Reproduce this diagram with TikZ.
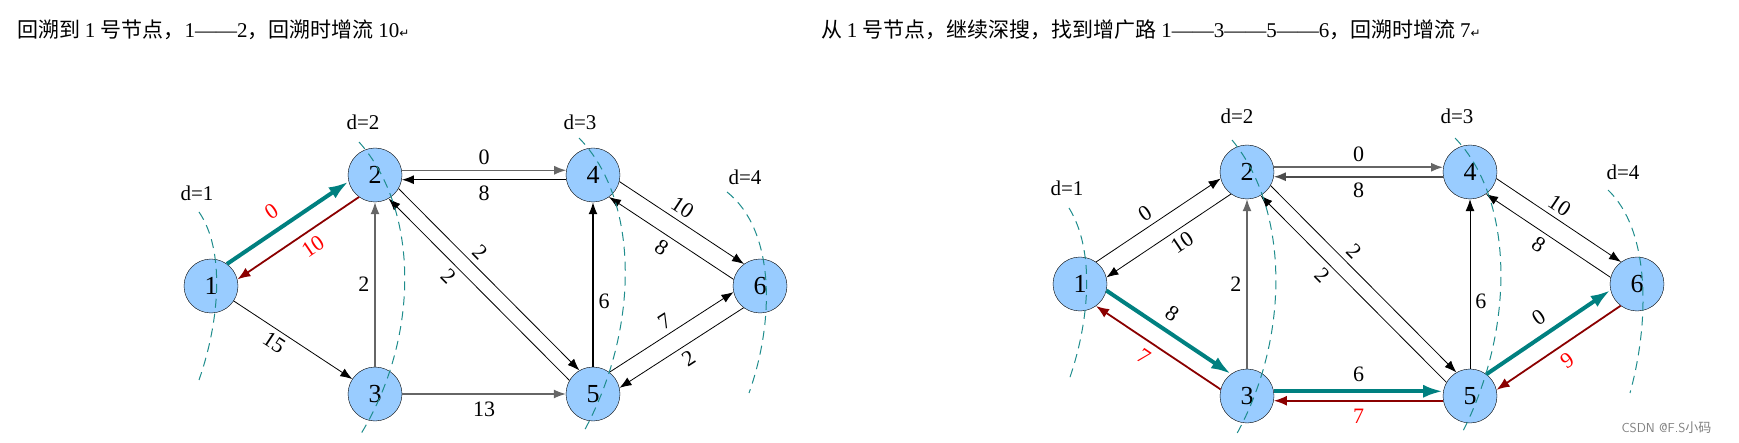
\documentclass[tikz,border=0pt]{standalone}
\usepackage{fontspec}
\setmainfont{Liberation Serif}
\newfontfamily\cjk{Noto Sans CJK SC}
\newfontfamily\dejavu{DejaVu Sans}
\usetikzlibrary{arrows.meta,calc}
\definecolor{nodeblue}{RGB}{153,204,255}
\definecolor{tealc}{RGB}{0,128,128}
\definecolor{dred}{RGB}{139,0,0}
\definecolor{dashc}{RGB}{30,140,140}
\tikzset{
 vtx/.style={circle,draw=black,fill=nodeblue,minimum size=54pt,inner sep=0pt,font=\fontsize{26}{26}\selectfont},
 e/.style={-{Latex[length=12pt,width=9pt]},line width=0.8pt},
 eg/.style={e,draw=gray!80!black,line width=1.4pt},
 eb/.style={e,line width=1.4pt},
 et/.style={-{Latex[length=20pt,width=13pt]},draw=tealc,line width=4pt},
 er/.style={-{Latex[length=13pt,width=10pt]},draw=dred,line width=1.8pt},
 lb/.style={font=\fontsize{22}{22}\selectfont,inner sep=5pt},
 rl/.style={lb,text=red},
 dl/.style={font=\fontsize{21}{21}\selectfont},
 dcurve/.style={draw=dashc,dash pattern=on 9pt off 6pt,line width=1pt},
 hdr/.style={anchor=west,font=\fontsize{21}{24}\selectfont,inner sep=0pt}
}
\begin{document}
\begin{tikzpicture}[x=1pt,y=-1pt]
\useasboundingbox (0,0) rectangle (1739,443);
\clip (0,0) rectangle (1739,443);
\node[hdr] (h1) at (17,30) {\cjk 回溯到 \rmfamily 1 \cjk 号节点，\rmfamily 1——2\cjk ，回溯时增流 \rmfamily 10{\dejavu\fontsize{12}{12}\selectfont ↵}};
\node[hdr] (h2) at (821,30) {\cjk 从 \rmfamily 1 \cjk 号节点，继续深搜，找到增广路 \rmfamily 1——3——5——6\cjk ，回溯时增流 \rmfamily 7{\dejavu\fontsize{12}{12}\selectfont ↵}};
% ---------- left graph ----------
\node[vtx] (a1) at (211,286) {1};
\node[vtx] (a2) at (375,175) {2};
\node[vtx] (a3) at (375,394) {3};
\node[vtx] (a4) at (593,175) {4};
\node[vtx] (a5) at (593,394) {5};
\node[vtx] (a6) at (760,286) {6};
\draw[et] (a1.54) -- node[rl,sloped,above,pos=0.45,yshift=4pt]{0} (a2.194);
\draw[er] (a2.234) -- node[rl,sloped,below,pos=0.45,yshift=-2pt]{10} (a1.14);
\draw[e] (a1) -- node[lb,sloped,below,pos=0.4]{15} (a3);
\draw[eg,line width=1.2pt] (a3) -- node[lb,left,pos=0.5]{2} (a2);
\draw[eg] (a2.10) -- node[lb,above]{0} (a4.170);
\draw[eb] (a4.-170) -- node[lb,below]{8} (a2.-10);
\draw[e] (a2.-30) -- node[lb,sloped,above,pos=0.4]{2} (a5.120);
\draw[e] (a5.150) -- node[lb,sloped,below,pos=0.62]{2} (a2.-60);
\draw[eb] (a5) -- node[lb,right,pos=0.4]{6} (a4);
\draw[e] (a4.-14) -- node[lb,sloped,above,pos=0.45]{10} (a6.126);
\draw[e] (a6.166) -- node[lb,sloped,below,pos=0.52]{8} (a4.-54);
\draw[e] (a5.53) -- node[lb,sloped,above,pos=0.5]{7} (a6.193);
\draw[e] (a6.233) -- node[lb,sloped,below,pos=0.5]{2} (a5.13);
\draw[eg,line width=1.2pt] (a3) -- node[lb,below,yshift=-2pt]{13} (a5);
\draw[dcurve] (199,212) .. controls (225,250) and (220,320) .. (199,380);
\draw[dcurve] (359,142) .. controls (420,210) and (420,340) .. (359,437);
\draw[dcurve] (579,138) .. controls (640,200) and (640,330) .. (583,433);
\draw[dcurve] (727,192) .. controls (775,230) and (775,320) .. (749,393);
\node[dl] (ad1) at (197,193) {d=1};
\node[dl] (ad2) at (363,122) {d=2};
\node[dl] (ad3) at (580,122) {d=3};
\node[dl] (ad4) at (745,177) {d=4};
% ---------- right graph ----------
\node[vtx] (b1) at (1080,284) {1};
\node[vtx] (b2) at (1247,172) {2};
\node[vtx] (b3) at (1247,396) {3};
\node[vtx] (b4) at (1470,172) {4};
\node[vtx] (b5) at (1470,396) {5};
\node[vtx] (b6) at (1637,284) {6};
\draw[e] (b1.54) -- node[lb,sloped,above,pos=0.45]{0} (b2.194);
\draw[e] (b2.234) -- node[lb,sloped,below,pos=0.45]{10} (b1.14);
\draw[et] (b1.-14) -- node[lb,sloped,above,pos=0.45,yshift=3pt]{8} (b3.126);
\draw[er] (b3.166) -- node[rl,sloped,below,pos=0.55,yshift=-2pt]{7} (b1.-54);
\draw[eg,line width=1.2pt] (b3) -- node[lb,left,pos=0.5]{2} (b2);
\draw[eg,line width=2pt] (b2.10) -- node[lb,above]{0} (b4.170);
\draw[eg,line width=1.6pt,draw=gray!60!black] (b4.-170) -- node[lb,below]{8} (b2.-10);
\draw[e] (b2.-30) -- node[lb,sloped,above,pos=0.4]{2} (b5.120);
\draw[e] (b5.150) -- node[lb,sloped,below,pos=0.62]{2} (b2.-60);
\draw[e] (b5) -- node[lb,right,pos=0.4]{6} (b4);
\draw[e] (b4.-14) -- node[lb,sloped,above,pos=0.45]{10} (b6.126);
\draw[e] (b6.166) -- node[lb,sloped,below,pos=0.52]{8} (b4.-54);
\draw[et] (b3.10) -- node[lb,above,yshift=3pt]{6} (b5.170);
\draw[er] (b5.-170) -- node[rl,below,yshift=-2pt]{7} (b3.-10);
\draw[et] (b5.53) -- node[lb,sloped,above,pos=0.5,yshift=3pt]{0} (b6.193);
\draw[er] (b6.233) -- node[rl,sloped,below,pos=0.5,yshift=-2pt]{9} (b5.13);
\draw[dcurve] (1069,208) .. controls (1095,250) and (1090,320) .. (1069,380);
\draw[dcurve] (1232,140) .. controls (1290,210) and (1290,340) .. (1235,437);
\draw[dcurve] (1455,138) .. controls (1515,200) and (1515,330) .. (1462,433);
\draw[dcurve] (1608,190) .. controls (1650,230) and (1650,320) .. (1630,393);
\node[dl] (bd1) at (1067,188) {d=1};
\node[dl] (bd2) at (1237,116) {d=2};
\node[dl] (bd3) at (1457,116) {d=3};
\node[dl] (bd4) at (1623,172) {d=4};
\node[anchor=west,text=gray,font=\fontsize{13}{13}\selectfont] (wm) at (1618,428) {\sffamily CSDN @F.S\cjk 小码};
\end{tikzpicture}
\end{document}
